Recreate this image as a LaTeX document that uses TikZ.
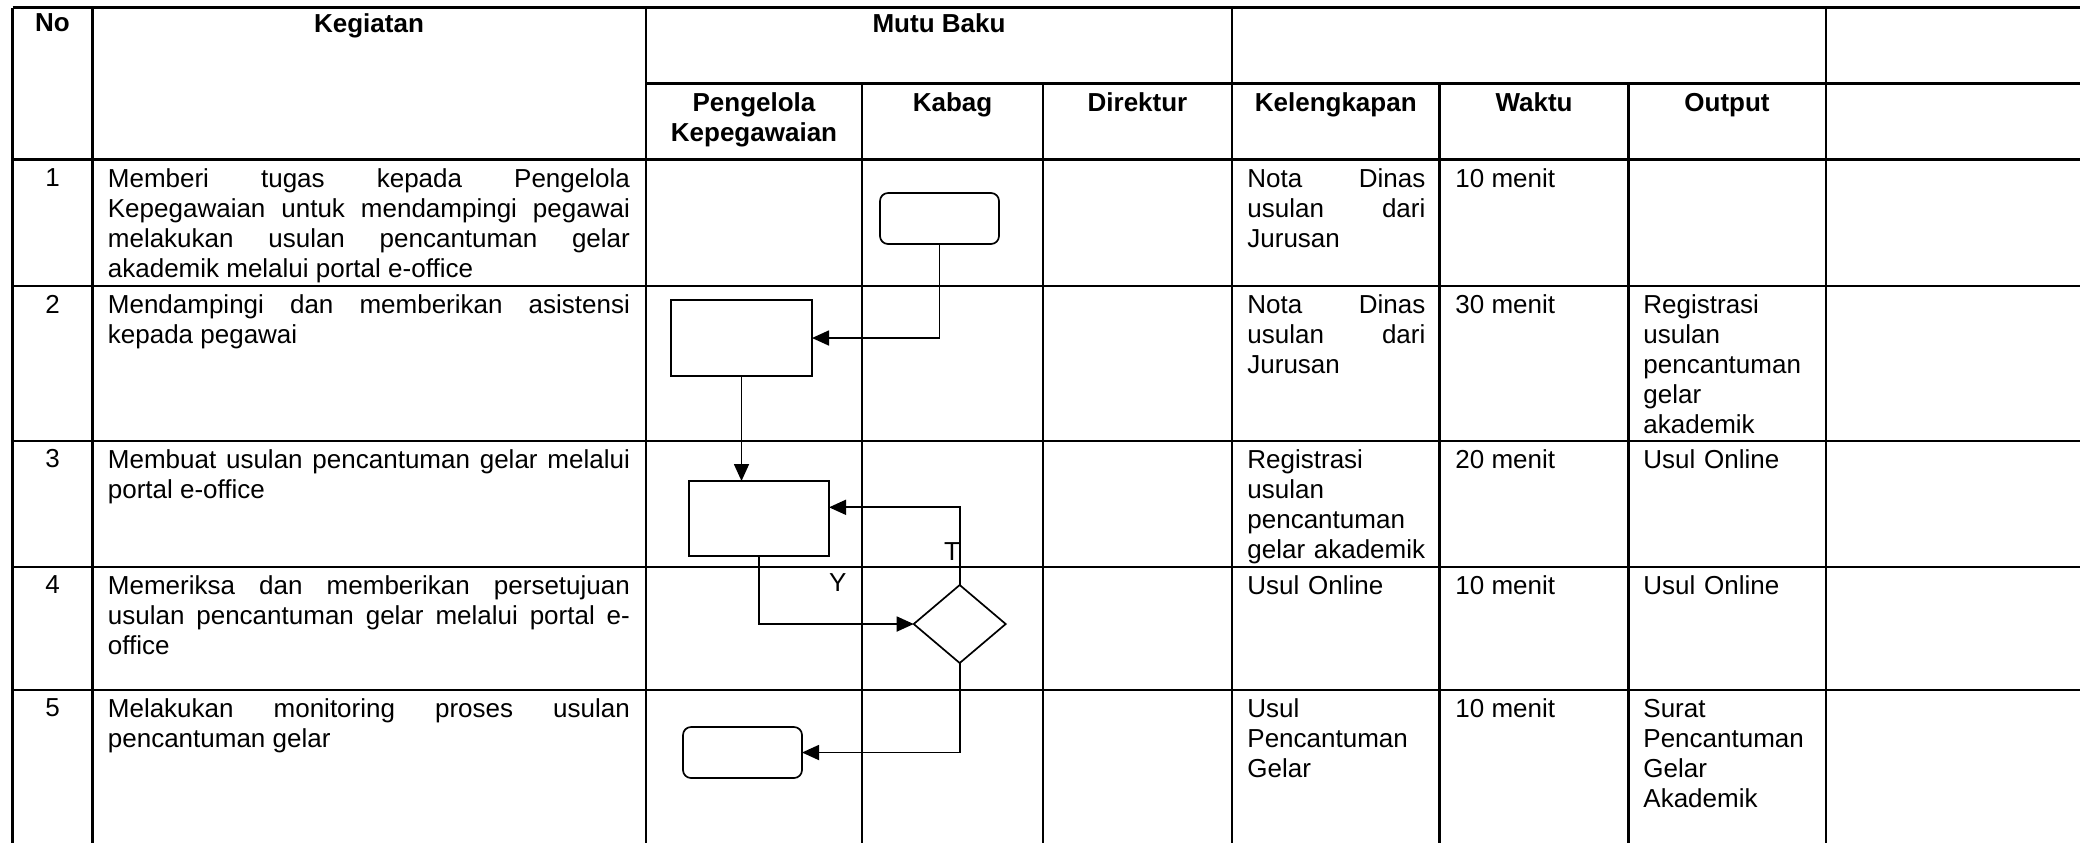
\documentclass[tikz,border=0pt]{standalone}
\usepackage{fontspec}
\setmainfont{Liberation Sans}
\usetikzlibrary{arrows.meta,shapes.geometric}
\begin{document}
\begin{tikzpicture}[x=0.5pt,y=-0.5pt,
  tbl/.style={line width=1.2pt},
  arr/.style={line width=0.85pt,-{Triangle[length=8.5pt,width=7.5pt]}},
  procbox/.style={draw,line width=0.85pt,inner sep=0pt,outer sep=0pt},
  termbox/.style={procbox,rounded corners=4pt},
  decbox/.style={draw,diamond,line width=0.85pt,inner sep=0pt,outer sep=0pt,minimum width=46pt,minimum height=39pt},
  hdr/.style={anchor=north,inner sep=0pt,font=\bfseries\fontsize{13}{15}\selectfont},
  body/.style={anchor=north west,inner sep=0pt,font=\fontsize{13}{15}\selectfont,align=left},
  num/.style={anchor=north,inner sep=0pt,font=\fontsize{13}{15}\selectfont},
  keg/.style={body,text width=261pt,align=justify},
  kel/.style={body,text width=89pt,align=justify},
  kelL/.style={body,text width=92pt,align=left},
  outp/.style={body,text width=90pt,align=left},
  lbl/.style={inner sep=0pt,font=\fontsize{13}{15}\selectfont}
]
\useasboundingbox (0,0) rectangle (2080,843);
\fill[white] (0,0) rectangle (2080,843);

% table grid
\draw[tbl] (12.5,7.5) -- (2080,7.5);
\draw[tbl] (646,83.5) -- (2080,83.5);
\foreach \yy in {159.5,286,440.7,566.7,690}
  \draw[tbl] (12.5,\yy) -- (2080,\yy);
\foreach \xx in {12.5,92.5,646,1232,1826}
  \draw[tbl] (\xx,7.5) -- (\xx,843);
\foreach \xx in {862,1043,1439.5,1628.5}
  \draw[tbl] (\xx,83.5) -- (\xx,843);

% headers
\node[hdr] (hNo) at (52.5,13.5) {No};
\node[hdr] (hKeg) at (369,13.5) {Kegiatan};
\node[hdr] (hMutu) at (939,13.5) {Mutu Baku};
\node[hdr,align=center] (hPeng) at (754,92.5) {Pengelola\\Kepegawaian};
\node[hdr] (hKab) at (952.5,92.5) {Kabag};
\node[hdr] (hDir) at (1137.5,92.5) {Direktur};
\node[hdr] (hKel) at (1335.75,92.5) {Kelengkapan};
\node[hdr] (hWak) at (1534,92.5) {Waktu};
\node[hdr] (hOut) at (1727,92.5) {Output};

% row 1
\node[num] (n1) at (52.5,168) {1};
\node[keg] (k1) at (107.5,168) {Memberi tugas kepada Pengelola\linebreak Kepegawaian untuk mendampingi pegawai\linebreak melakukan usulan pencantuman gelar\linebreak akademik melalui portal e-office};
\node[kel] (l1) at (1247,168) {Nota Dinas\linebreak usulan dari\linebreak Jurusan};
\node[body] (w1) at (1455,168) {10 menit};

% row 2
\node[num] (n2) at (52.5,294.5) {2};
\node[keg] (k2) at (107.5,294.5) {Mendampingi dan memberikan asistensi\linebreak kepada pegawai};
\node[kel] (l2) at (1247,294.5) {Nota Dinas\linebreak usulan dari\linebreak Jurusan};
\node[body] (w2) at (1455,294.5) {30 menit};
\node[outp] (o2) at (1643,294.5) {Registrasi\\usulan\\pencantuman\\gelar\\akademik};

% row 3
\node[num] (n3) at (52.5,449.2) {3};
\node[keg] (k3) at (107.5,449.2) {Membuat usulan pencantuman gelar melalui\linebreak portal e-office};
\node[kelL] (l3) at (1247,449.2) {Registrasi\\usulan\\pencantuman\\gelar akademik};
\node[body] (w3) at (1455,449.2) {20 menit};
\node[outp] (o3) at (1643,449.2) {Usul Online};

% row 4
\node[num] (n4) at (52.5,575.2) {4};
\node[keg] (k4) at (107.5,575.2) {Memeriksa dan memberikan persetujuan\linebreak usulan pencantuman gelar melalui portal e-\linebreak office};
\node[kelL] (l4) at (1247,575.2) {Usul Online};
\node[body] (w4) at (1455,575.2) {10 menit};
\node[outp] (o4) at (1643,575.2) {Usul Online};

% row 5
\node[num] (n5) at (52.5,698.5) {5};
\node[keg] (k5) at (107.5,698.5) {Melakukan monitoring proses usulan\linebreak pencantuman gelar};
\node[kelL] (l5) at (1247,698.5) {Usul\\Pencantuman\\Gelar};
\node[body] (w5) at (1455,698.5) {10 menit};
\node[outp] (o5) at (1643,698.5) {Surat\\Pencantuman\\Gelar\\Akademik};

% flowchart
\node[termbox,minimum width=59.5pt,minimum height=25.5pt] (start) at (939.5,218.5) {};
\node[procbox,minimum width=70.5pt,minimum height=38pt] (p2) at (741.5,338) {};
\node[procbox,minimum width=70pt,minimum height=37.5pt] (p3) at (759,518.5) {};
\node[decbox] (dec) at (959.7,624) {};
\node[termbox,minimum width=59.5pt,minimum height=25.5pt] (finish) at (742.5,752.5) {};

\draw[arr] (start.south) |- (p2.east);
\draw[arr] (p2.south) -- (p2.south |- p3.north);
\draw[arr] (dec.north) |- ([yshift=5.6pt]p3.east);
\draw[arr] (p3.south) |- (dec.west);
\draw[arr] (dec.south) |- (finish.east);

\node[lbl] (lT) at (952,551.7) {T};
\node[lbl] (lY) at (837.8,583) {Y};
\end{tikzpicture}
\end{document}
